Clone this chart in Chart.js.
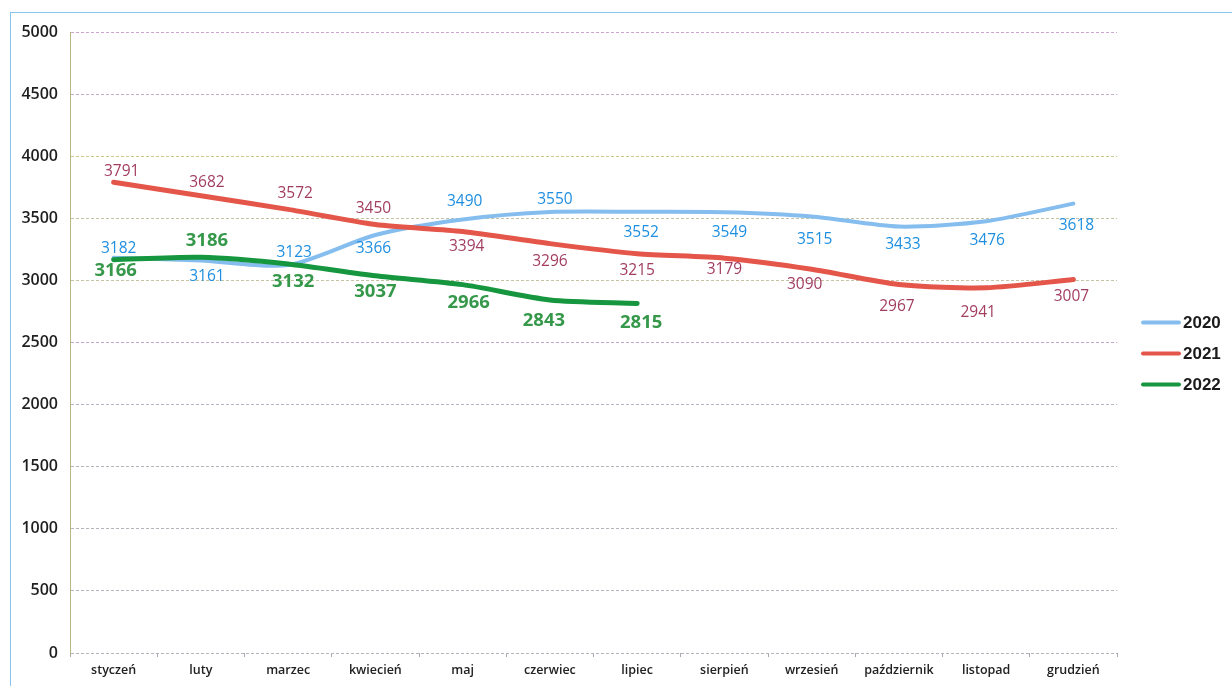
<!DOCTYPE html>
<html>
<head>
<meta charset="utf-8">
<script src="https://cdn.jsdelivr.net/npm/chart.js@4.4.0/dist/chart.umd.min.js"></script>
<style>
  html,body{margin:0;padding:0;background:#fff;}
  #wrap{position:relative;width:1232px;height:686px;overflow:hidden;}
  #frame{position:absolute;left:10px;top:12px;width:1300px;height:800px;border-left:1px solid #86c4ee;border-top:1px solid #86c4ee;pointer-events:none;}
  canvas{position:absolute;left:0;top:0;}
</style>
</head>
<body>
<div id="wrap">
  <canvas id="c" width="1232" height="686"></canvas>
  <div id="frame"></div>
</div>
<script>
const months = ["styczeń","luty","marzec","kwiecień","maj","czerwiec","lipiec","sierpień","wrzesień","październik","listopad","grudzień"];
const seriesNames = ["2020","2021","2022"];
const values2020 = [3182,3161,3123,3366,3490,3550,3552,3549,3515,3433,3476,3618];
const values2021 = [3791,3682,3572,3450,3394,3296,3215,3179,3090,2967,2941,3007];
const values2022 = [3166,3186,3132,3037,2966,2843,2815];
const yTicks = [0,500,1000,1500,2000,2500,3000,3500,4000,4500,5000];

// label placement offsets (pixels) relative to each point
const labelOffsets2020 = [[5,-9],[6,16],[6,-13],[-2,14],[2,-18],[5,-13],[4,21],[5,20],[3,23],[4,18],[1,19],[3,22]];
const labelOffsets2021 = [[8,-11],[6,-13],[7,-16],[-2,-16],[4,15],[0,18],[0,17],[0,11],[-7,15],[-2,22],[-8,25],[-2,17]];
const labelOffsets2022 = [[2,11],[6,-17],[5,18],[0,16],[6,18],[-6,21],[4,19]];

const gridColorFor = v => {
  if (v === 5000) return '#cfa6cf';
  if (v === 4500) return '#bfaec6';
  if (v === 4000) return '#c9c98c';
  if (v === 3500 || v === 3000) return '#c4c2a2';
  if (v === 2500) return '#bfa6cc';
  if (v === 2000) return '#bdb3c6';
  return '#b6b4bc';
};

const labelPlugin = {
  id: 'valueLabels',
  afterDatasetsDraw(chart) {
    const ctx = chart.ctx;
    chart.data.datasets.forEach((ds, di) => {
      const meta = chart.getDatasetMeta(di);
      ctx.save();
      ctx.font = ds.labelFont;
      ctx.fillStyle = ds.labelColor;
      ctx.textAlign = 'center';
      ctx.textBaseline = 'middle';
      meta.data.forEach((pt, i) => {
        const off = ds.labelOffsets[i] || [0, 0];
        ctx.fillText(String(ds.data[i]), pt.x + off[0], pt.y + off[1]);
      });
      ctx.restore();
    });
  }
};

const legendPlugin = {
  id: 'sideLegend',
  afterDraw(chart) {
    const ctx = chart.ctx;
    const x0 = chart.chartArea.right + 26;
    const yc = (chart.chartArea.top + chart.chartArea.bottom) / 2 + 11;
    chart.data.datasets.forEach((ds, i) => {
      const y = yc + (i - 1) * 31;
      ctx.save();
      ctx.strokeStyle = ds.borderColor;
      ctx.lineWidth = 4;
      ctx.lineCap = 'round';
      ctx.beginPath();
      ctx.moveTo(x0, y);
      ctx.lineTo(x0 + 36, y);
      ctx.stroke();
      ctx.fillStyle = '#1b1b1b';
      ctx.font = 'bold 17px "Liberation Sans", Arial, sans-serif';
      ctx.textBaseline = 'middle';
      ctx.textAlign = 'left';
      ctx.fillText(ds.label, x0 + 40, y + 1);
      ctx.restore();
    });
  }
};

new Chart(document.getElementById('c'), {
  type: 'line',
  data: {
    labels: months,
    datasets: [
      { label: seriesNames[0], data: values2020, borderColor: '#84bdee', borderWidth: 4, order: 3,
        labelColor: '#1e8fe0', labelFont: '15.5px "Open Sans", sans-serif', labelOffsets: labelOffsets2020 },
      { label: seriesNames[1], data: values2021, borderColor: '#e5564a', borderWidth: 5, order: 2,
        labelColor: '#a23d62', labelFont: '15.5px "Open Sans", sans-serif', labelOffsets: labelOffsets2021 },
      { label: seriesNames[2], data: values2022, borderColor: '#16973f', borderWidth: 5, order: 1,
        labelColor: '#36984a', labelFont: 'bold 18.5px "Open Sans", sans-serif', labelOffsets: labelOffsets2022 }
    ]
  },
  options: {
    responsive: false,
    animation: false,
    layout: { padding: { left: 10, right: 115, top: 32, bottom: 7 } },
    elements: {
      point: { radius: 0, hoverRadius: 0 },
      line: { tension: 0.25, borderCapStyle: 'round', borderJoinStyle: 'round', fill: false }
    },
    plugins: { legend: { display: false }, tooltip: { enabled: false } },
    scales: {
      x: {
        offset: true,
        grid: { offset: true, drawOnChartArea: false, drawTicks: true, tickLength: 4, color: '#a8a8b0' },
        border: { display: false },
        ticks: { padding: 6, color: '#222', font: { family: '"Open Sans", sans-serif', size: 12.5, weight: '600' }, maxRotation: 0, autoSkip: false },
        afterFit(scale) { scale.height = 26; }
      },
      y: {
        min: 0, max: 5000,
        afterBuildTicks(scale) { scale.ticks = yTicks.map(v => ({ value: v })); },
        grid: { drawTicks: false, lineWidth: 1, color: ctx => gridColorFor(ctx.tick ? ctx.tick.value : 0) },
        border: { display: true, color: '#b8b884', width: 1, dash: [3, 2] },
        ticks: { padding: 12, color: '#1e1e1e', callback: v => String(v), font: { family: '"Open Sans", sans-serif', size: 16, weight: '600' } },
        afterFit(scale) { scale.width = 60; }
      }
    }
  },
  plugins: [labelPlugin, legendPlugin]
});
</script>
</body>
</html>
